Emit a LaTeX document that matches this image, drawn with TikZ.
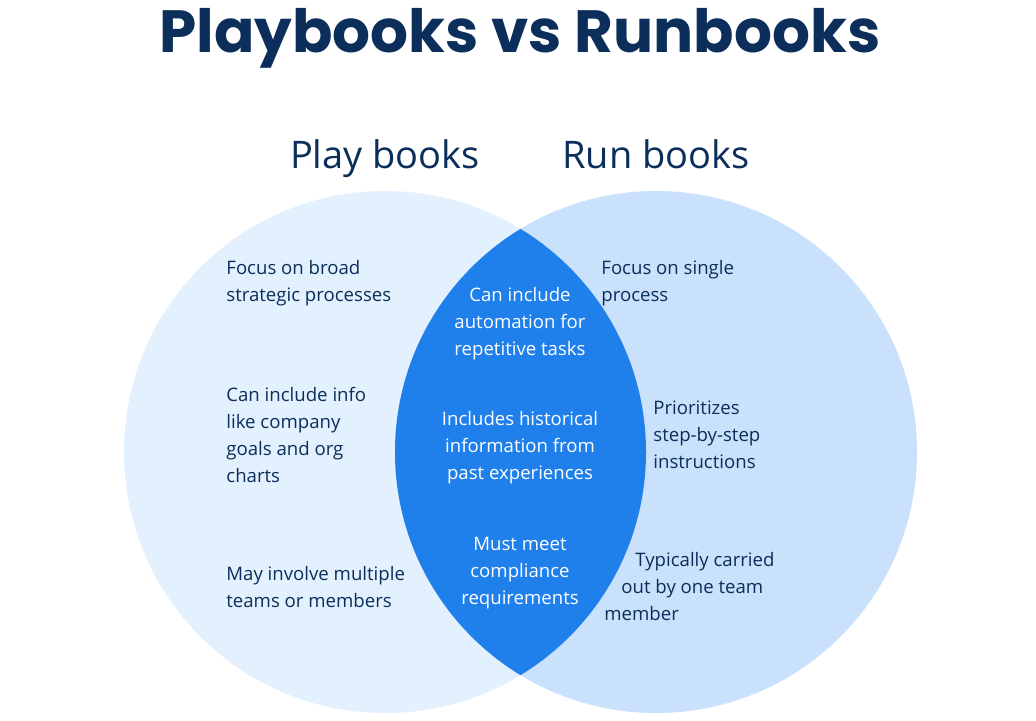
\documentclass[tikz,border=0pt]{standalone}
\usepackage{fontspec}
\setmainfont{Open Sans}
\newfontfamily\titlefont{Poppins}
\usetikzlibrary{positioning}
\definecolor{navy}{HTML}{0B2E5A}
\definecolor{playfill}{HTML}{E3F0FD}
\definecolor{runfill}{HTML}{C9E1FB}
\definecolor{lensfill}{HTML}{1F7FEB}
\tikzset{
  every node/.style={font=\fontsize{9.3}{13.5}\selectfont, text=navy},
  sidetext/.style={align=left, anchor=west, inner sep=0pt},
  midtext/.style={align=center, inner sep=0pt, text=white},
  heading/.style={font=\fontsize{19}{22}\selectfont, anchor=base}
}
\begin{document}
\begin{tikzpicture}[x=0.5pt,y=-0.5pt]
  \useasboundingbox[fill=white] (0,0) rectangle (1036,720);
  % Title
  \node[font=\titlefont\bfseries\fontsize{29.8}{34}\selectfont] (title) at (520,38) {Playbooks vs Runbooks};

  % Circles
  \fill[playfill] (385,452) circle (261);
  \fill[runfill] (656,452) circle (261);
  \begin{scope}
    \clip (385,452) circle (261);
    \fill[lensfill] (656,452) circle (261);
  \end{scope}

  % Headings
  \node[heading] (play) at (385,168) {Play books};
  \node[heading] (run) at (656,168) {Run books};

  % Play books side
  \node[sidetext] (p1) at (226,283) {Focus on broad\\strategic processes};
  \node[sidetext] (p2) at (226,435) {Can include info\\like company\\goals and org\\charts};
  \node[sidetext] (p3) at (226,587) {May involve multiple\\teams or members};

  % Shared
  \node[midtext] (m1) at (520,324) {Can include\\automation for\\repetitive tasks};
  \node[midtext] (m2) at (520,448) {Includes historical\\information from\\past experiences};
  \node[midtext] (m3) at (520,573) {Must meet\\compliance\\requirements};

  % Run books side
  \node[sidetext] (r1) at (601,283) {Focus on single\\process};
  \node[sidetext] (r2) at (653,435) {Prioritizes\\step-by-step\\instructions};
  \node[sidetext] (r3) at (604,587) {\hspace{15.5pt}Typically carried\\\hspace{8.5pt}out by one team\\member};
\end{tikzpicture}
\end{document}
